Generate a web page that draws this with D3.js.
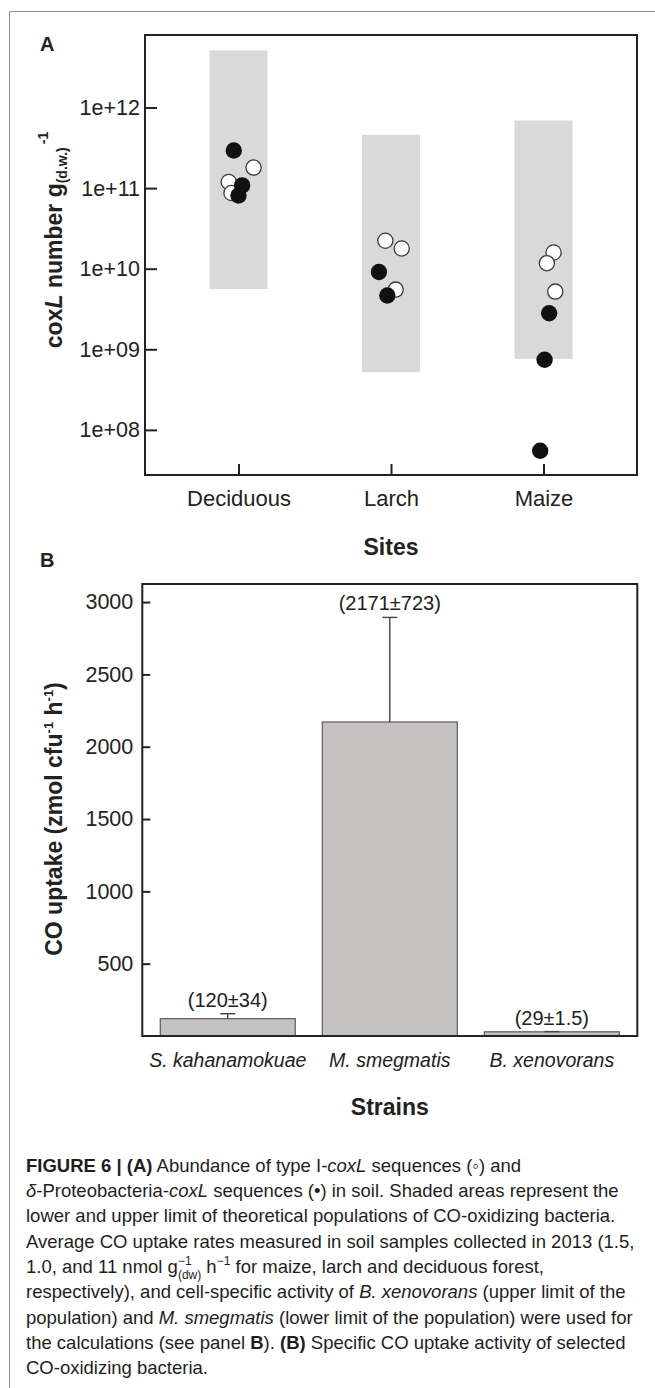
<!DOCTYPE html>
<html>
<head>
<meta charset="utf-8">
<script src="https://cdn.jsdelivr.net/npm/d3@7"></script>
<style>
  body { margin: 0; background: #fff; }
  svg { display: block; font-family: "Liberation Sans", Arial, Helvetica, sans-serif; }
</style>
</head>
<body>
<svg id="chart" width="655" height="1388"></svg>
<script>
// ---------- panel A : coxL abundance (log scale) ----------
const sites = ["Deciduous", "Larch", "Maize"];
// theoretical population limits (shaded bars)
const popLower = [5.6e9, 5.2e8, 7.6e8];
const popUpper = [5.1e12, 4.6e11, 6.9e11];
// type I coxL (open circles); jitter is in units of one category step
const openSite   = ["Deciduous", "Deciduous", "Deciduous", "Larch", "Larch", "Larch", "Maize", "Maize", "Maize"];
const openValue  = [1.8e11, 1.19e11, 8.7e10, 2.22e10, 1.78e10, 5.5e9, 1.59e10, 1.17e10, 5.2e9];
const openJitter = [0.099, -0.064, -0.046, -0.037, 0.07, 0.031, 0.066, 0.022, 0.077];
// delta-Proteobacteria coxL (filled circles)
const deltaSite   = ["Deciduous", "Deciduous", "Deciduous", "Larch", "Larch", "Maize", "Maize", "Maize"];
const deltaValue  = [2.93e11, 1.08e11, 8.1e10, 9.1e9, 4.65e9, 2.8e9, 7.4e8, 5.5e7];
const deltaJitter = [-0.031, 0.024, 0, -0.079, -0.024, 0.037, 0.007, -0.022];
const yTicksA = [1e8, 1e9, 1e10, 1e11, 1e12];
const yTickLabelsA = ["1e+08", "1e+09", "1e+10", "1e+11", "1e+12"];

// ---------- panel B : specific CO uptake ----------
const strains = ["S. kahanamokuae", "M. smegmatis", "B. xenovorans"];
const uptakeMean = [120, 2171, 29];
const uptakeErr = [34, 723, 1.5];
const barLabels = ["(120±34)", "(2171±723)", "(29±1.5)"];
const yTicksB = [500, 1000, 1500, 2000, 2500, 3000];

// ---------- caption ----------
const captionLines = [
  [["FIGURE 6 | (A)", "b"], [" Abundance of type I-"], ["coxL", "i"], [" sequences (◦) and"]],
  [["δ", "i"], ["-Proteobacteria-"], ["coxL", "i"], [" sequences (•) in soil. Shaded areas represent the"]],
  [["lower and upper limit of theoretical populations of CO-oxidizing bacteria."]],
  [["Average CO uptake rates measured in soil samples collected in 2013 (1.5,"]],
  [["1.0, and 11 nmol g"], ["−1", "sup"], ["(dw)", "sub"], [" h"], ["−1", "sup"], [" for maize, larch and deciduous forest,"]],
  [["respectively), and cell-specific activity of "], ["B. xenovorans", "i"], [" (upper limit of the"]],
  [["population) and "], ["M. smegmatis", "i"], [" (lower limit of the population) were used for"]],
  [["the calculations (see panel "], ["B", "b"], ["). "], ["(B)", "b"], [" Specific CO uptake activity of selected"]],
  [["CO-oxidizing bacteria."]]
];

const ink = "#222";
const svg = d3.select("#chart");

// outer figure border (only left and top edges are visible)
svg.append("path")
  .attr("d", "M9.5,1388V11.5H655")
  .attr("fill", "none")
  .attr("stroke", "#8f8f8f")
  .attr("stroke-width", 1);

// ================= PANEL A =================
const A = { left: 145, right: 637, top: 35, bottom: 475 };

const xA = d3.scalePoint()
  .domain(sites)
  .range([A.left, A.right])
  .padding(0.613);

const yA = d3.scaleLog()
  .domain([Math.pow(10, 7.44), Math.pow(10, 12.9)])
  .range([A.bottom, A.top]);

const gA = svg.append("g");

// shaded population ranges
const shadeW = xA.step() * 0.38;
gA.selectAll(".pop")
  .data(sites)
  .join("rect")
  .attr("class", "pop")
  .attr("x", d => xA(d) - shadeW / 2)
  .attr("width", shadeW)
  .attr("y", (d, i) => yA(popUpper[i]))
  .attr("height", (d, i) => yA(popLower[i]) - yA(popUpper[i]))
  .attr("fill", "#d9d9d9");

// open circles first, filled on top
gA.selectAll(".open")
  .data(openValue)
  .join("circle")
  .attr("class", "open")
  .attr("cx", (d, i) => xA(openSite[i]) + openJitter[i] * xA.step())
  .attr("cy", d => yA(d))
  .attr("r", 7.6)
  .attr("fill", "#fff")
  .attr("stroke", "#3a3a3a")
  .attr("stroke-width", 1.3);

gA.selectAll(".delta")
  .data(deltaValue)
  .join("circle")
  .attr("class", "delta")
  .attr("cx", (d, i) => xA(deltaSite[i]) + deltaJitter[i] * xA.step())
  .attr("cy", d => yA(d))
  .attr("r", 8.2)
  .attr("fill", "#111");

// axes with inward ticks
const axA_left = gA.append("g")
  .attr("transform", `translate(${A.left},0)`)
  .call(d3.axisLeft(yA)
    .tickValues(yTicksA)
    .tickFormat((d, i) => yTickLabelsA[i])
    .tickSizeInner(-12)
    .tickSizeOuter(0)
    .tickPadding(5));

const axA_bottom = gA.append("g")
  .attr("transform", `translate(0,${A.bottom})`)
  .call(d3.axisBottom(xA)
    .tickSizeInner(-11)
    .tickSizeOuter(0));

axA_bottom.selectAll("text").attr("y", 31).attr("dy", 0).attr("font-size", 22);
axA_left.selectAll("text").attr("font-size", 21.5);

[axA_left, axA_bottom].forEach(ax => {
  ax.attr("font-family", null).attr("font-size", null);
  ax.select(".domain").remove();
  ax.selectAll("line").attr("stroke", ink).attr("stroke-width", 2);
  ax.selectAll("text").attr("fill", ink);
});

// frame
gA.append("rect")
  .attr("x", A.left)
  .attr("y", A.top)
  .attr("width", A.right - A.left)
  .attr("height", A.bottom - A.top)
  .attr("fill", "none")
  .attr("stroke", ink)
  .attr("stroke-width", 2);

// axis titles
gA.append("text")
  .attr("x", (A.left + A.right) / 2)
  .attr("y", 555)
  .attr("text-anchor", "middle")
  .attr("font-size", 23)
  .attr("font-weight", "bold")
  .attr("fill", ink)
  .text("Sites");

const ylabA = gA.append("text")
  .attr("transform", "translate(62,240) rotate(-90)")
  .attr("text-anchor", "middle")
  .attr("font-size", 23)
  .attr("font-weight", "bold")
  .attr("fill", ink);
ylabA.append("tspan").text("cox");
ylabA.append("tspan").attr("font-style", "italic").text("L");
ylabA.append("tspan").text(" number g");
ylabA.append("tspan").attr("font-size", 14).attr("dy", 5).text("(d.w.)");
ylabA.append("tspan").attr("font-size", 14).attr("dx", 3).attr("dy", -19).text("-1");

svg.append("text")
  .attr("x", 40).attr("y", 51)
  .attr("font-size", 20).attr("font-weight", "bold").attr("fill", ink)
  .text("A");

// ================= PANEL B =================
const B = { left: 142.3, right: 637.3, top: 584, bottom: 1036 };

const xB = d3.scaleBand()
  .domain(strains)
  .range([B.left, B.right])
  .paddingInner(0.167)
  .paddingOuter(0.111);

const yB = d3.scaleLinear()
  .domain([0, 3125])
  .range([B.bottom, B.top]);

const gB = svg.append("g");

gB.selectAll(".bar")
  .data(uptakeMean)
  .join("rect")
  .attr("class", "bar")
  .attr("x", (d, i) => xB(strains[i]))
  .attr("width", xB.bandwidth())
  .attr("y", d => yB(d))
  .attr("height", d => yB(0) - yB(d))
  .attr("fill", "#c6c1c1")
  .attr("stroke", "#5c5c5c")
  .attr("stroke-width", 1.2);

// upper error bars with caps
const capW = 15;
const errs = gB.selectAll(".err")
  .data(uptakeMean)
  .join("g")
  .attr("class", "err")
  .attr("stroke", "#444")
  .attr("stroke-width", 1.4);
errs.append("line")
  .attr("x1", (d, i) => xB(strains[i]) + xB.bandwidth() / 2)
  .attr("x2", (d, i) => xB(strains[i]) + xB.bandwidth() / 2)
  .attr("y1", d => yB(d))
  .attr("y2", (d, i) => yB(d + uptakeErr[i]));
errs.append("line")
  .attr("x1", (d, i) => xB(strains[i]) + xB.bandwidth() / 2 - capW / 2)
  .attr("x2", (d, i) => xB(strains[i]) + xB.bandwidth() / 2 + capW / 2)
  .attr("y1", (d, i) => yB(d + uptakeErr[i]))
  .attr("y2", (d, i) => yB(d + uptakeErr[i]));

// value labels above the bars
gB.selectAll(".vlab")
  .data(barLabels)
  .join("text")
  .attr("class", "vlab")
  .attr("x", (d, i) => xB(strains[i]) + xB.bandwidth() / 2)
  .attr("y", (d, i) => yB(uptakeMean[i] + uptakeErr[i]) - 7)
  .attr("text-anchor", "middle")
  .attr("font-size", 20)
  .attr("fill", ink)
  .text(d => d);

const axB_left = gB.append("g")
  .attr("transform", `translate(${B.left},0)`)
  .call(d3.axisLeft(yB)
    .tickValues(yTicksB)
    .tickFormat(d3.format("d"))
    .tickSizeInner(-8)
    .tickSizeOuter(0)
    .tickPadding(9));
axB_left.attr("font-family", null).attr("font-size", null);
axB_left.select(".domain").remove();
axB_left.selectAll("line").attr("stroke", ink).attr("stroke-width", 2);
axB_left.selectAll("text").attr("fill", ink).attr("font-size", 21.5);

// category labels (no ticks on this axis)
gB.selectAll(".xlab")
  .data(strains)
  .join("text")
  .attr("class", "xlab")
  .attr("x", d => xB(d) + xB.bandwidth() / 2)
  .attr("y", 1066.7)
  .attr("text-anchor", "middle")
  .attr("font-size", 19.5)
  .attr("font-style", "italic")
  .attr("fill", ink)
  .text(d => d);

gB.append("rect")
  .attr("x", B.left)
  .attr("y", B.top)
  .attr("width", B.right - B.left)
  .attr("height", B.bottom - B.top)
  .attr("fill", "none")
  .attr("stroke", ink)
  .attr("stroke-width", 2);

gB.append("text")
  .attr("x", (B.left + B.right) / 2)
  .attr("y", 1115)
  .attr("text-anchor", "middle")
  .attr("font-size", 23)
  .attr("font-weight", "bold")
  .attr("fill", ink)
  .text("Strains");

const ylabB = gB.append("text")
  .attr("transform", "translate(62,819) rotate(-90)")
  .attr("text-anchor", "middle")
  .attr("font-size", 23)
  .attr("font-weight", "bold")
  .attr("fill", ink);
ylabB.append("tspan").text("CO uptake (zmol cfu");
ylabB.append("tspan").attr("font-size", 13).attr("dy", -9).text("-1");
ylabB.append("tspan").attr("dy", 9).text(" h");
ylabB.append("tspan").attr("font-size", 13).attr("dy", -9).text("-1");
ylabB.append("tspan").attr("dy", 9).text(")");

svg.append("text")
  .attr("x", 40).attr("y", 567)
  .attr("font-size", 20).attr("font-weight", "bold").attr("fill", ink)
  .text("B");

// ================= CAPTION =================
const cap = svg.append("g").attr("font-size", 18.5).attr("fill", "#1e1e1e");
captionLines.forEach((line, li) => {
  const t = cap.append("text").attr("x", 26).attr("y", 1171.7 + li * 25.3);
  let shift = 0, supW = 0;
  line.forEach(([txt, kind]) => {
    const s = t.append("tspan").text(txt);
    if (kind === "b") s.attr("font-weight", "bold");
    if (kind === "i") s.attr("font-style", "italic");
    if (kind === "sup") {
      s.attr("font-size", 12).attr("dy", -8 - shift);
      shift = -8;
      supW = s.node().getComputedTextLength();
    } else if (kind === "sub") {
      s.attr("font-size", 12).attr("dx", -supW).attr("dy", 6 - shift);
      shift = 6;
    } else if (shift !== 0) {
      s.attr("dy", -shift);
      shift = 0;
    }
  });
});
</script>
</body>
</html>
